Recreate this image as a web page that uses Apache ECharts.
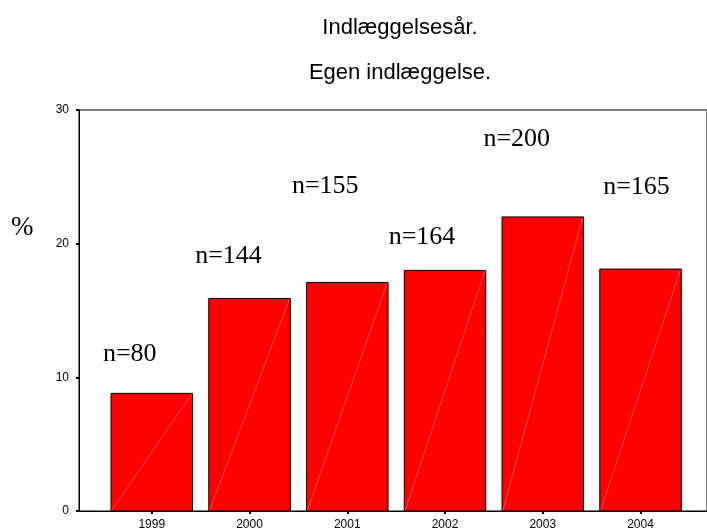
<!DOCTYPE html>
<html>
<head>
<meta charset="utf-8">
<script src="https://cdn.jsdelivr.net/npm/echarts@6/dist/echarts.min.js"></script>
<style>
  html, body { margin: 0; padding: 0; background: #fff; }
  #main { width: 707px; height: 531px; }
</style>
</head>
<body>
<div id="main"></div>
<script>
var years = ['1999', '2000', '2001', '2002', '2003', '2004'];
var percents = [8.8, 15.9, 17.1, 18.0, 22.0, 18.1];
var nCounts = [80, 144, 155, 164, 200, 165];
var yTicks = [0, 10, 20, 30];

// label placement (px) relative to each bar top / centre
var labelLift = [39, 42, 96, 33, 78, 82];
var labelDx = [-22, -21, -22, -23, -26, -4];
var halfBar = 0.417;

var chartDom = document.getElementById('main');
var myChart = echarts.init(chartDom);
var option;

var data = percents.map(function (v, i) { return [i, v]; });

function renderItem(params, api) {
  var idx = params.dataIndex;
  var i = api.value(0);
  var v = api.value(1);
  var tl = api.coord([i - halfBar, v]);
  var br = api.coord([i + halfBar, 0]);
  return {
    type: 'group',
    children: [
      {
        type: 'rect',
        shape: { x: tl[0], y: tl[1], width: br[0] - tl[0], height: br[1] - tl[1] },
        style: { fill: '#ff0000', stroke: '#000', lineWidth: 1 }
      },
      {
        type: 'line',
        shape: { x1: tl[0] + 1, y1: br[1] - 1, x2: br[0] - 1, y2: tl[1] + 1 },
        style: { stroke: 'rgba(255,200,200,0.65)', lineWidth: 0.6 }
      },
      {
        type: 'text',
        x: (tl[0] + br[0]) / 2 + labelDx[idx],
        y: tl[1] - labelLift[idx],
        style: {
          text: 'n=' + nCounts[idx],
          fill: '#000',
          font: '26px "Liberation Serif", "Times New Roman", serif',
          align: 'center',
          verticalAlign: 'middle'
        }
      }
    ]
  };
}

option = {
  animation: false,
  backgroundColor: '#fff',
  title: [
    {
      text: 'Indlæggelsesår.',
      left: 395,
      top: 12,
      textAlign: 'center',
      textStyle: { fontFamily: 'Liberation Sans', fontSize: 22, fontWeight: 'normal', color: '#000' }
    },
    {
      text: 'Egen indlæggelse.',
      left: 395,
      top: 57,
      textAlign: 'center',
      textStyle: { fontFamily: 'Liberation Sans', fontSize: 22, fontWeight: 'normal', color: '#000' }
    }
  ],
  graphic: [
    {
      type: 'text',
      left: 11,
      top: 214,
      style: { text: '%', font: '27px "Liberation Serif", serif', fill: '#000' }
    }
  ],
  grid: {
    left: 79,
    right: -4,
    top: 110,
    bottom: 19,
    show: true,
    borderColor: '#000',
    borderWidth: 1
  },
  xAxis: {
    type: 'value',
    min: -0.7447,
    max: 5.68,
    splitLine: { show: false },
    axisLine: { show: true, onZero: false, lineStyle: { color: '#000', width: 1 } },
    axisTick: {
      show: true,
      customValues: [0, 1, 2, 3, 4, 5],
      length: 3,
      lineStyle: { color: '#000', width: 2 }
    },
    axisLabel: {
      customValues: [0, 1, 2, 3, 4, 5],
      formatter: function (v) { return years[Math.round(v)]; },
      margin: 8,
      fontFamily: 'Liberation Sans',
      fontSize: 12,
      color: '#000'
    }
  },
  yAxis: {
    type: 'value',
    min: 0,
    max: 30,
    interval: 10,
    splitLine: { show: false },
    axisLine: { show: true, onZero: false, lineStyle: { color: '#000', width: 1 } },
    axisTick: { show: true, length: 3, lineStyle: { color: '#000', width: 2 } },
    axisLabel: {
      margin: 10,
      fontFamily: 'Liberation Sans',
      fontSize: 12,
      color: '#000',
      formatter: function (v) { return yTicks.indexOf(v) >= 0 ? String(v) : ''; }
    }
  },
  series: [
    {
      type: 'custom',
      renderItem: renderItem,
      data: data,
      encode: { x: 0, y: 1 }
    }
  ]
};

option && myChart.setOption(option);
</script>
</body>
</html>
